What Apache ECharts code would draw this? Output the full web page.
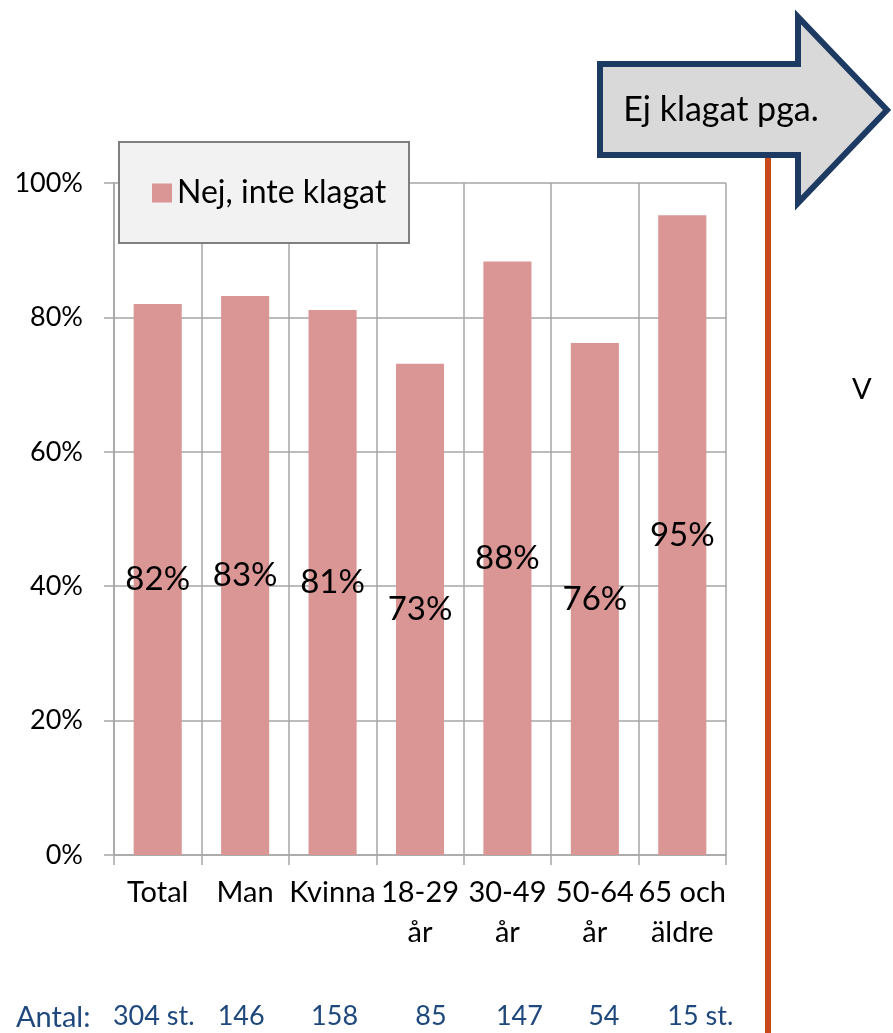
<!DOCTYPE html>
<html>
<head>
<meta charset="utf-8">
<script src="https://cdn.jsdelivr.net/npm/echarts@6/dist/echarts.min.js"></script>
<style>
  html, body { margin: 0; padding: 0; background: #fff; }
  #chart { width: 893px; height: 1033px; }
</style>
</head>
<body>
<div id="chart"></div>
<script>
// categories along the x axis
const categories = ['Total', 'Man', 'Kvinna', '18-29\når', '30-49\når', '50-64\når', '65 och\näldre']
// share who did not complain, per group (percent)
const nejValues = [82, 83.2, 81.1, 73.1, 88.3, 76.2, 95.2]
// number of respondents per group
const antal = ['304 st.', '146', '158', '85', '147', '54', '15 st.']
// small horizontal nudge for the count labels, as placed in the source
const antalShift = [-4, -4, 2, 11, 12, 9, 18]

const FONT = 'Lato'
const GRID = '#a6a6a6'

const chart = echarts.init(document.getElementById('chart'))

const antalData = antal.map((a, i) => ({
  value: a,
  textStyle: antalShift[i] >= 0
    ? { padding: [0, 0, 0, antalShift[i] * 2] }
    : { padding: [0, -antalShift[i] * 2, 0, 0] }
}))

chart.setOption({
  animation: false,
  textStyle: { fontFamily: FONT },
  grid: { left: 114, right: 167, top: 183, bottom: 178, containLabel: false },
  legend: {
    data: ['Nej, inte klagat'],
    left: 152,
    top: 176,
    z: 20,
    icon: 'rect',
    itemWidth: 20,
    itemHeight: 19,
    itemGap: 10,
    padding: 0,
    textStyle: { fontFamily: FONT, fontSize: 32, color: '#000', lineHeight: 34 }
  },
  xAxis: [
    {
      type: 'category',
      data: categories,
      axisLine: { show: true, lineStyle: { color: GRID, width: 1.5 } },
      axisTick: { show: true, interval: 0, length: 10, lineStyle: { color: GRID, width: 1.5 } },
      splitLine: { show: true, interval: 0, lineStyle: { color: GRID, width: 1.5 } },
      axisLabel: {
        interval: 0, margin: 18, fontFamily: FONT, fontSize: 29, lineHeight: 40, color: '#000'
      }
    },
    {
      type: 'category',
      data: antalData,
      position: 'bottom',
      offset: 140,
      axisLine: { show: false },
      axisTick: { show: false },
      splitLine: { show: false },
      axisLabel: { interval: 0, margin: 8, fontFamily: FONT, fontSize: 27, color: '#1f497d' }
    }
  ],
  yAxis: {
    type: 'value',
    min: 0,
    max: 100,
    interval: 20,
    axisLine: { show: true, lineStyle: { color: GRID, width: 1.5 } },
    axisTick: { show: true, length: 10, lineStyle: { color: GRID, width: 1.5 } },
    splitLine: { show: true, lineStyle: { color: GRID, width: 1.5 } },
    axisLabel: { formatter: '{value}%', margin: 31, fontFamily: FONT, fontSize: 27, color: '#000' }
  },
  series: [
    {
      name: 'Nej, inte klagat',
      type: 'bar',
      xAxisIndex: 0,
      data: nejValues,
      barWidth: '55%',
      itemStyle: { color: '#d99694' },
      label: {
        show: true,
        position: 'inside',
        fontFamily: FONT,
        fontSize: 33,
        color: '#000',
        formatter: p => Math.round(p.value) + '%'
      }
    }
  ],
  graphic: [
    // legend box
    {
      type: 'rect',
      z: 10,
      shape: { x: 119, y: 142, width: 290, height: 101 },
      style: { fill: '#f2f2f2', stroke: '#7f7f7f', lineWidth: 2 }
    },
    // orange divider
    {
      type: 'line',
      z: 10,
      shape: { x1: 768, y1: 150, x2: 768, y2: 1040 },
      style: { stroke: '#c5491a', lineWidth: 6 }
    },
    // arrow callout
    {
      type: 'polygon',
      z: 12,
      shape: {
        points: [[600, 64], [798, 64], [798, 17], [887, 110], [798, 203], [798, 155], [600, 155]]
      },
      style: { fill: '#d9d9d9', stroke: '#1c3a62', lineWidth: 6, lineJoin: 'miter' }
    },
    {
      type: 'text',
      z: 13,
      x: 721,
      y: 110,
      style: {
        text: 'Ej klagat pga.',
        fontFamily: FONT,
        fontSize: 34,
        fill: '#000',
        align: 'center',
        verticalAlign: 'middle'
      }
    },
    // cut-off text at right edge
    {
      type: 'text',
      x: 852,
      y: 390,
      style: { text: 'V', fontFamily: FONT, fontSize: 29, fill: '#000', verticalAlign: 'middle' }
    },
    {
      type: 'text',
      x: 16,
      y: 1018,
      style: { text: 'Antal:', fontFamily: FONT, fontSize: 29, fill: '#1f497d', verticalAlign: 'middle' }
    }
  ]
})
</script>
</body>
</html>
